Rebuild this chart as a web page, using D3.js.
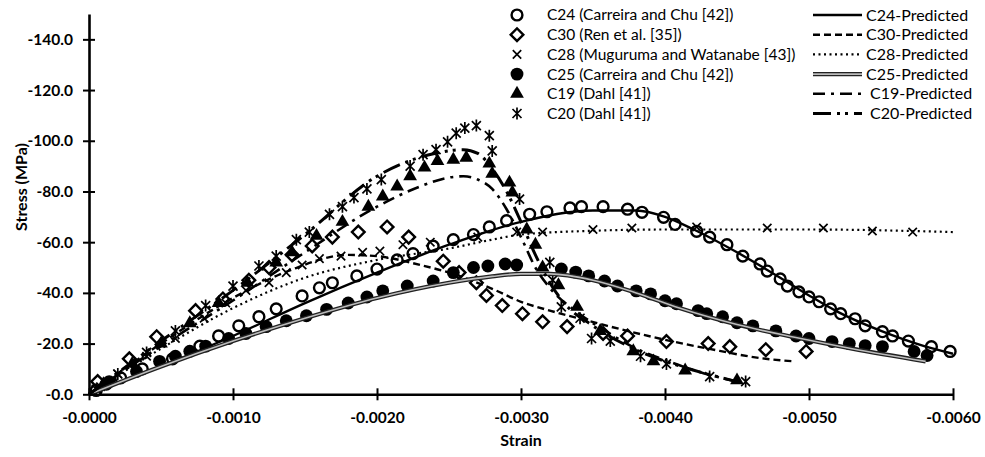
<!DOCTYPE html>
<html><head><meta charset="utf-8">
<script src="https://cdn.jsdelivr.net/npm/d3@7"></script>
<style>body{margin:0;background:#fff} svg{display:block}</style>
</head><body>
<svg id="chart" width="985" height="457"></svg>
<script>
// ---------- DATA (strain, stress in MPa; compressive = negative) ----------
const xTicks = [0, -0.001, -0.002, -0.003, -0.004, -0.005, -0.006];
const yTicks = [0, -20, -40, -60, -80, -100, -120, -140];

const c24Data = [[-0.00005,-1.5],[-0.00012,-4],[-0.00022,-6.5],[-0.00037,-10],[-0.00058,-14],[-0.00077,-19],[-0.0009,-23],[-0.00104,-27],[-0.00118,-30.6],[-0.0013,-33.7],[-0.00148,-38.8],[-0.0016,-42],[-0.00169,-44],[-0.00186,-46.7],[-0.002,-49.4],[-0.00214,-53],[-0.00225,-55.5],[-0.00239,-58.4],[-0.00253,-61],[-0.00267,-63],[-0.00278,-66],[-0.0029,-68.5],[-0.00306,-71],[-0.00318,-72],[-0.00334,-73.5],[-0.00342,-74],[-0.00357,-74],[-0.00374,-73],[-0.00384,-71.8],[-0.00399,-69.8],[-0.00407,-67],[-0.00422,-64.3],[-0.00431,-62],[-0.00443,-59],[-0.00454,-54.5],[-0.00466,-51.4],[-0.00471,-48.6],[-0.0048,-45.5],[-0.00485,-42.7],[-0.00493,-40.4],[-0.005,-38.4],[-0.00507,-36.5],[-0.00515,-33.7],[-0.00522,-31.8],[-0.00532,-29.8],[-0.00539,-27],[-0.00551,-24.7],[-0.00558,-23],[-0.00569,-21],[-0.00585,-18.8],[-0.00598,-16.9]];
const c24Pred = [[0,0],[-0.0005,-11],[-0.001,-23],[-0.0015,-36],[-0.002,-48],[-0.0025,-59],[-0.003,-68],[-0.0035,-72.5],[-0.0038,-72.5],[-0.004,-70],[-0.0042,-65],[-0.0045,-56],[-0.0048,-46],[-0.005,-39],[-0.0052,-32.5],[-0.0055,-25],[-0.0058,-19],[-0.006,-16]];

const c30Data = [[-0.00006,-5],[-0.00028,-14],[-0.00047,-22.7],[-0.00074,-33],[-0.00093,-37.6],[-0.00111,-45],[-0.00125,-50],[-0.00141,-55],[-0.00155,-58.5],[-0.00169,-62],[-0.00187,-64],[-0.00207,-66],[-0.00222,-62],[-0.00246,-52.5],[-0.00257,-48],[-0.00269,-44],[-0.00276,-39],[-0.00287,-35],[-0.00301,-31.8],[-0.00315,-28.6],[-0.00332,-26.7],[-0.00357,-24],[-0.00374,-23],[-0.00401,-20.8],[-0.0043,-20],[-0.00445,-18.8],[-0.0047,-17.6],[-0.00498,-16.9]];
const c30Pred = [[0,0],[-0.0005,-20],[-0.001,-38],[-0.0014,-49],[-0.0018,-55],[-0.002,-54.5],[-0.0023,-51],[-0.0025,-48],[-0.0028,-41.6],[-0.003,-36.5],[-0.0032,-33],[-0.0034,-30],[-0.0036,-27],[-0.004,-21.5],[-0.0043,-18],[-0.0047,-14],[-0.0049,-13]];

const c28Data = [[-0.00008,-3],[-0.0002,-8],[-0.0004,-15],[-0.0006,-22],[-0.0008,-30],[-0.00095,-36],[-0.00109,-41],[-0.00125,-44],[-0.00137,-48],[-0.00148,-51],[-0.0016,-53.5],[-0.00175,-54.5],[-0.0019,-56],[-0.00202,-56.5],[-0.00218,-59],[-0.00237,-60],[-0.0027,-62],[-0.00297,-64],[-0.00315,-64],[-0.0035,-65],[-0.00377,-65.6],[-0.00422,-66],[-0.00471,-65.6],[-0.0051,-65.6],[-0.00544,-64.4],[-0.00572,-64]];
const c28Pred = [[0,0],[-0.0005,-18],[-0.001,-34],[-0.0015,-46],[-0.002,-53],[-0.0025,-57.5],[-0.0028,-61],[-0.003,-63],[-0.0035,-64.5],[-0.004,-65],[-0.005,-65],[-0.006,-64]];

const c25Data = [[-0.00014,-5],[-0.00033,-9],[-0.00049,-13],[-0.0006,-15],[-0.0007,-17],[-0.00081,-19],[-0.00097,-22],[-0.00109,-24],[-0.00123,-26.7],[-0.00137,-29],[-0.00151,-31],[-0.00165,-33.5],[-0.0018,-36],[-0.00193,-38.4],[-0.00204,-40.8],[-0.00221,-42.7],[-0.00239,-44.7],[-0.00253,-48],[-0.00267,-50],[-0.00277,-50.6],[-0.00289,-51.4],[-0.00297,-51],[-0.00328,-49.4],[-0.00338,-48.2],[-0.00347,-46.7],[-0.00358,-44.7],[-0.00367,-42.7],[-0.0038,-40.8],[-0.0039,-39.6],[-0.004,-36.9],[-0.00408,-35.7],[-0.00423,-33],[-0.00429,-31.8],[-0.0044,-30.6],[-0.0045,-28.2],[-0.00461,-27],[-0.00477,-25],[-0.00491,-23],[-0.005,-22],[-0.00516,-20.8],[-0.00528,-20],[-0.00539,-19.2],[-0.00551,-18.8],[-0.00573,-16.9],[-0.00582,-15.3]];
const c25Pred = [[0,0],[-0.0005,-11],[-0.001,-21],[-0.0015,-30],[-0.002,-38],[-0.0025,-44],[-0.0028,-46.5],[-0.003,-47.5],[-0.0032,-47.5],[-0.0035,-45],[-0.0038,-40],[-0.0041,-34],[-0.0045,-27.5],[-0.0049,-22.5],[-0.0053,-18],[-0.00581,-13]];

const c19Data = [[-0.0001,-4],[-0.0003,-12],[-0.0005,-20],[-0.0007,-28],[-0.0009,-36],[-0.0011,-44],[-0.0013,-52],[-0.00141,-56],[-0.00158,-62.5],[-0.00176,-68],[-0.00194,-74],[-0.00204,-78],[-0.00214,-82],[-0.00223,-86],[-0.00233,-89.4],[-0.00242,-92],[-0.00253,-92.5],[-0.00262,-93.3],[-0.00278,-91],[-0.0028,-87],[-0.00292,-83.5],[-0.00294,-79.6],[-0.00304,-65],[-0.0031,-59],[-0.00315,-50],[-0.00326,-43],[-0.00339,-34.5],[-0.00355,-25],[-0.00378,-17],[-0.00392,-13],[-0.00414,-9.4],[-0.0045,-5.5]];
const c19Pred = [[0,0],[-0.0005,-19],[-0.001,-37],[-0.0015,-56],[-0.002,-74],[-0.0023,-82],[-0.0025,-85.5],[-0.0026,-86],[-0.0027,-84.7],[-0.0028,-81],[-0.0029,-73],[-0.003,-62],[-0.0031,-50],[-0.0032,-42],[-0.0034,-32],[-0.0036,-24.5],[-0.0038,-18],[-0.004,-13.5],[-0.0042,-9.5],[-0.0045,-5]];

const c20Data = [[-0.00005,-2],[-0.0002,-8],[-0.0004,-16.5],[-0.0006,-25],[-0.00081,-35],[-0.001,-42.7],[-0.00118,-50.6],[-0.0013,-54.5],[-0.00144,-61],[-0.00153,-64],[-0.00167,-71],[-0.00176,-74],[-0.00184,-77.6],[-0.00193,-81],[-0.00203,-84.7],[-0.00223,-90],[-0.00232,-94.5],[-0.00241,-96.5],[-0.00249,-99.6],[-0.00255,-103],[-0.00261,-105],[-0.00269,-106],[-0.00278,-102],[-0.0028,-96],[-0.00299,-77],[-0.0032,-52],[-0.00322,-45],[-0.00328,-34.5],[-0.00341,-30],[-0.00349,-22],[-0.00362,-21],[-0.00383,-15],[-0.00401,-12],[-0.00431,-7],[-0.00456,-5]];
const c20Pred = [[0,0],[-0.0005,-21],[-0.001,-41],[-0.0015,-63],[-0.002,-86],[-0.0024,-95],[-0.0026,-96.5],[-0.0027,-95],[-0.0028,-89],[-0.0029,-80],[-0.003,-68],[-0.0031,-55],[-0.0032,-44],[-0.0033,-36],[-0.0035,-27],[-0.0038,-17.5],[-0.0042,-9.5],[-0.0045,-5]];

const dataNames = ["C24 (Carreira and Chu [42])","C30 (Ren et al. [35])","C28 (Muguruma and Watanabe [43])","C25 (Carreira and Chu [42])","C19 (Dahl [41])","C20 (Dahl [41])"];
const predNames = ["C24-Predicted","C30-Predicted","C28-Predicted","C25-Predicted","C19-Predicted","C20-Predicted"];

// ---------- CHART ----------
const svg = d3.select("#chart");
const FONT = "Lato, 'Open Sans', sans-serif";
const x = d3.scaleLinear().domain([0, -0.006]).range([89, 953]);
const y = d3.scaleLinear().domain([0, -150]).range([394.3, 14]);

function markerPath(kind) {
  switch (kind) {
    case "circleOpen": return d3.symbol().type(d3.symbolCircle).size(92)();
    case "circleFill": return d3.symbol().type(d3.symbolCircle).size(130)();
    case "diamond": return d3.symbol().type(d3.symbolSquare).size(80)();
    case "x": return "M-4.2,-4.2L4.2,4.2M-4.2,4.2L4.2,-4.2";
    case "tri": return d3.symbol().type(d3.symbolTriangle).size(82)();
    case "ast": return "M-4.5,-4.5L4.5,4.5M-4.5,4.5L4.5,-4.5M0,-6L0,6";
  }
}
function styleMarker(sel, kind) {
  sel.attr("d", markerPath(kind));
  if (kind === "circleOpen") sel.attr("fill", "none").attr("stroke", "#000").attr("stroke-width", 2.4);
  else if (kind === "diamond") sel.attr("fill", "none").attr("stroke", "#000").attr("stroke-width", 2.4);
  else if (kind === "x" || kind === "ast") sel.attr("fill", "none").attr("stroke", "#000").attr("stroke-width", 1.7);
  else sel.attr("fill", "#000").attr("stroke", "none");
}

const lineGen = d3.line().x(d => x(d[0])).y(d => y(d[1])).curve(d3.curveMonotoneX);

const predStyles = [
  {key: "solid", w: 2.4, dash: null},
  {key: "dash", w: 2.4, dash: "7,4"},
  {key: "dot", w: 2.2, dash: "2,3.5"},
  {key: "double", w: 4.2, dash: null},
  {key: "dashdot", w: 2.6, dash: "12,6,3,6"},
  {key: "dashdotdot", w: 3, dash: "18,6,3,5,3,6"}
];
const preds = [c24Pred, c30Pred, c28Pred, c25Pred, c19Pred, c20Pred];
const datas = [c24Data, c30Data, c28Data, c25Data, c19Data, c20Data];
const kinds = ["circleOpen", "diamond", "x", "circleFill", "tri", "ast"];

function drawPredLine(g, pathD, st) {
  if (st.key === "double") {
    g.append("path").attr("d", pathD).attr("fill", "none").attr("stroke", "#222").attr("stroke-width", 4.2);
    g.append("path").attr("d", pathD).attr("fill", "none").attr("stroke", "#bbb").attr("stroke-width", 1.6);
  } else {
    const p = g.append("path").attr("d", pathD).attr("fill", "none").attr("stroke", "#000").attr("stroke-width", st.w);
    if (st.dash) p.attr("stroke-dasharray", st.dash);
  }
}

const plot = svg.append("g");
datas.forEach((ds, i) => {
  const g = plot.append("g");
  g.selectAll("path").data(ds).join("path")
    .each(function() { styleMarker(d3.select(this), kinds[i]); })
    .attr("transform", d => `translate(${x(d[0])},${y(d[1])})` + (kinds[i] === "diamond" ? " rotate(45)" : ""));
});
preds.forEach((p, i) => drawPredLine(plot.append("g"), lineGen(p), predStyles[i]));

// axes
const xAxis = svg.append("g").attr("transform", `translate(0,${y(0)})`)
  .call(d3.axisBottom(x).tickValues(xTicks).tickSizeInner(6).tickSizeOuter(0).tickPadding(12)
    .tickFormat(d => "-" + Math.abs(d).toFixed(4)));
xAxis.selectAll(".tick line").attr("y1", -6).attr("y2", 6).attr("stroke-width", 2);
const yAxis = svg.append("g").attr("transform", `translate(${x(0)},0)`)
  .call(d3.axisLeft(y).tickValues(yTicks).tickSizeInner(6).tickSizeOuter(0).tickPadding(10)
    .tickFormat(d => "-" + Math.abs(d).toFixed(1)));
yAxis.selectAll(".tick line").attr("x1", -6).attr("x2", 6).attr("stroke-width", 2);
[xAxis, yAxis].forEach(a => {
  a.select(".domain").attr("stroke-width", 2.6).attr("stroke", "#000");
  a.selectAll(".tick text").attr("font-family", FONT).attr("font-weight", "bold").attr("font-size", 15.5).attr("fill", "#000");
});

svg.append("text").attr("x", 521).attr("y", 446).attr("text-anchor", "middle")
  .attr("font-family", FONT).attr("font-weight", "bold").attr("font-size", 16).text("Strain");
svg.append("text").attr("transform", "translate(27,187) rotate(-90)").attr("text-anchor", "middle")
  .attr("font-family", FONT).attr("font-weight", "bold").attr("font-size", 16).text("Stress (MPa)");

// legend
const leg = svg.append("g");
dataNames.forEach((name, i) => {
  const yy = 15 + i * 19.7;
  const m = leg.append("path");
  styleMarker(m, kinds[i]);
  m.attr("transform", `translate(517,${yy})` + (kinds[i] === "diamond" ? " rotate(45)" : ""));
  leg.append("text").attr("x", 547).attr("y", yy).attr("dy", "0.35em")
    .attr("font-family", FONT).attr("font-size", 15.5).text(name);
});
predNames.forEach((name, i) => {
  const yy = 15 + i * 19.7;
  const lg = leg.append("g");
  drawPredLine(lg, `M813,${yy}L862,${yy}`, predStyles[i]);
  leg.append("text").attr("x", i >= 4 ? 870 : 866).attr("y", yy).attr("dy", "0.35em")
    .attr("font-family", FONT).attr("font-size", 16).text(name);
});
</script>
</body></html>
